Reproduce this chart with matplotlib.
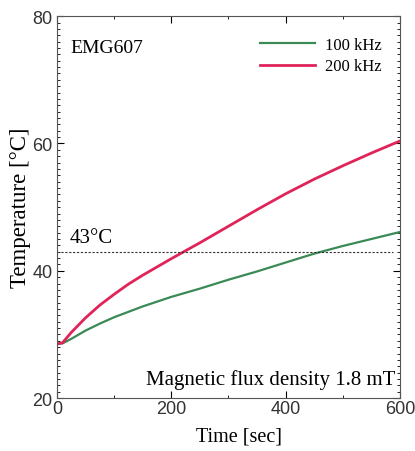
import matplotlib
matplotlib.use('Agg')
import matplotlib.pyplot as plt
from matplotlib.ticker import MultipleLocator

# data
time_100 = [0, 10, 25, 50, 75, 100, 150, 200, 250, 300, 350, 400, 450, 500, 550, 600]
temp_100 = [28.5, 28.6, 29.3, 30.6, 31.7, 32.7, 34.4, 35.9, 37.2, 38.6, 39.9, 41.3, 42.7, 43.9, 45.0, 46.1]
time_200 = [0, 10, 25, 50, 75, 100, 125, 150, 175, 200, 250, 300, 350, 400, 450, 500, 550, 600]
temp_200 = [28.5, 28.7, 30.3, 32.6, 34.6, 36.3, 37.9, 39.3, 40.6, 41.9, 44.4, 47.0, 49.6, 52.1, 54.4, 56.5, 58.5, 60.4]
threshold = 43

plt.rcParams['font.family'] = 'Liberation Serif'
plt.rcParams['xtick.direction'] = 'in'
plt.rcParams['ytick.direction'] = 'in'

fig = plt.figure(figsize=(4.15, 4.52), dpi=100)
ax = fig.add_axes([0.137, 0.117, 0.827, 0.845])

ax.plot(time_100, temp_100, color='#3a8a55', lw=1.6, label='100 kHz')
ax.plot(time_200, temp_200, color='#e0245a', lw=2.0, label='200 kHz')
ax.plot([0, 588], [threshold, threshold], color='#333333', lw=0.8, ls=(0, (2, 1.5)))

ax.set_xlim(0, 600)
ax.set_ylim(20, 80)
ax.xaxis.set_major_locator(MultipleLocator(200))
ax.xaxis.set_minor_locator(MultipleLocator(100))
ax.yaxis.set_major_locator(MultipleLocator(20))
ax.yaxis.set_minor_locator(MultipleLocator(1))
ax.tick_params(which='both', top=True, right=True)
ax.tick_params(which='major', length=5, labelsize=13, pad=1)
ax.tick_params(axis='y', which='major', pad=3)
ax.tick_params(which='minor', length=2.5)
for lab in ax.get_xticklabels() + ax.get_yticklabels():
    lab.set_family('Liberation Sans')
    lab.set_color('#333333')
for s in ax.spines.values():
    s.set_color('#555555')

ax.set_xlabel('Time [sec]', fontsize=14.5)
ax.xaxis.set_label_coords(0.53, -0.075)
ax.set_ylabel('Temperature [\u00b0C]', fontsize=16.5)
ax.yaxis.set_label_coords(-0.075, 0.5)

ax.text(0.04, 0.94, 'EMG607', transform=ax.transAxes, fontsize=14, va='top')
ax.text(22, 44.6, '43\u00b0C', fontsize=15)
ax.text(0.985, 0.025, 'Magnetic flux density 1.8 mT', transform=ax.transAxes,
        fontsize=15, ha='right', va='bottom')

ax.legend(loc='upper right', bbox_to_anchor=(0.995, 0.99), frameon=False, fontsize=12,
          handlelength=3.3, handletextpad=0.6, borderaxespad=0.6, labelspacing=0.35)

fig.savefig('out.png', dpi=100)
